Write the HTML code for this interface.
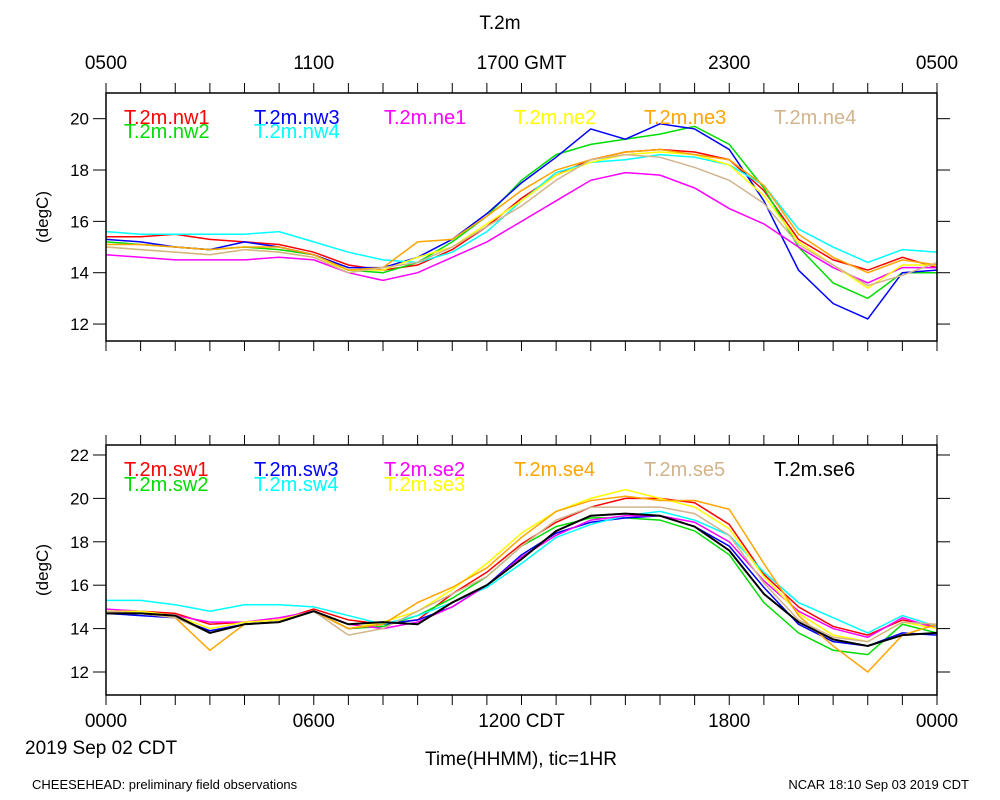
<!DOCTYPE html>
<html><head><meta charset="utf-8"><style>
body{margin:0;background:#fff}svg{display:block}
text{font-family:"Liberation Sans",sans-serif}
</style></head><body>
<svg id="c" width="1000" height="800" xmlns="http://www.w3.org/2000/svg"></svg>
<script>
const hours=[0,1,2,3,4,5,6,7,8,9,10,11,12,13,14,15,16,17,18,19,20,21,22,23,24];
const nw1=[15.4,15.4,15.5,15.3,15.2,15.1,14.8,14.3,14.1,14.3,14.9,15.8,16.9,17.8,18.4,18.7,18.8,18.7,18.4,17.2,15.3,14.5,14.1,14.6,14.2];
const nw2=[15.2,15.1,15.0,14.9,15.0,14.9,14.7,14.1,14.0,14.4,15.2,16.2,17.6,18.6,19.0,19.2,19.4,19.7,19.0,17.3,15.0,13.6,13.0,14.0,14.0];
const nw3=[15.3,15.2,15.0,14.9,15.2,15.0,14.7,14.2,14.2,14.6,15.3,16.3,17.5,18.5,19.6,19.2,19.8,19.6,18.8,16.8,14.1,12.8,12.2,14.0,14.1];
const nw4=[15.6,15.5,15.5,15.5,15.5,15.6,15.2,14.8,14.5,14.4,14.8,15.6,16.8,17.9,18.3,18.4,18.6,18.5,18.2,17.4,15.7,15.0,14.4,14.9,14.8];
const ne1=[14.7,14.6,14.5,14.5,14.5,14.6,14.5,14.0,13.7,14.0,14.6,15.2,16.0,16.8,17.6,17.9,17.8,17.3,16.5,15.9,15.0,14.2,13.6,14.2,14.2];
const ne2=[15.0,14.9,14.8,14.7,14.9,14.8,14.6,14.1,14.1,14.6,15.0,15.9,16.8,17.8,18.3,18.6,18.7,18.6,18.2,17.0,15.2,14.3,13.4,14.3,14.3];
const ne3=[15.1,15.1,15.0,14.9,15.0,15.0,14.7,14.1,14.2,15.2,15.3,16.2,17.2,18.0,18.4,18.7,18.8,18.6,18.4,17.4,15.5,14.6,14.0,14.5,14.3];
const ne4=[15.0,14.9,14.8,14.7,14.9,14.8,14.6,14.0,14.2,14.4,15.0,15.8,16.6,17.6,18.4,18.6,18.5,18.1,17.6,16.7,15.1,14.3,13.5,13.9,14.4];
const sw1=[14.8,14.8,14.7,14.2,14.3,14.4,14.9,14.4,14.2,14.4,15.6,16.6,17.9,18.9,19.6,20.0,20.0,19.8,18.8,16.5,15.0,14.1,13.7,14.4,14.1];
const sw2=[14.7,14.7,14.6,13.8,14.2,14.3,14.8,14.0,14.1,14.6,15.4,16.4,17.8,18.7,19.1,19.1,19.0,18.5,17.4,15.2,13.8,13.0,12.8,14.2,13.8];
const sw3=[14.7,14.6,14.5,13.9,14.2,14.3,14.8,14.0,14.2,14.4,15.0,16.0,17.4,18.4,18.9,19.1,19.2,18.7,17.8,15.9,14.2,13.4,13.2,13.8,13.7];
const sw4=[15.3,15.3,15.1,14.8,15.1,15.1,15.0,14.6,14.2,14.6,15.2,15.9,17.0,18.2,18.8,19.2,19.4,19.0,18.3,16.6,15.2,14.5,13.8,14.6,14.1];
const se2=[14.9,14.8,14.6,14.3,14.3,14.5,14.8,14.2,14.0,14.3,15.0,16.0,17.3,18.3,19.0,19.2,19.2,18.9,18.0,16.2,14.8,14.0,13.6,14.5,14.0];
const se3=[14.8,14.8,14.6,14.0,14.3,14.4,14.8,14.0,14.3,14.8,15.8,17.0,18.4,19.4,20.0,20.4,20.0,19.6,18.6,16.4,14.7,13.7,13.4,14.3,14.0];
const se4=[14.8,14.7,14.5,13.0,14.2,14.3,14.8,14.0,14.2,15.2,15.9,16.8,18.2,19.4,19.9,20.1,19.9,19.9,19.5,17.0,14.6,13.2,12.0,13.7,14.2];
const se5=[14.8,14.7,14.5,13.8,14.2,14.3,14.8,13.7,14.0,14.8,15.6,16.4,17.8,19.0,19.6,19.6,19.6,19.3,18.3,16.1,14.4,13.6,13.4,14.3,14.2];
const se6=[14.7,14.7,14.6,13.8,14.2,14.3,14.8,14.2,14.3,14.2,15.2,16.0,17.2,18.5,19.2,19.3,19.2,18.7,17.6,15.6,14.3,13.5,13.2,13.7,13.8];
const topTicks=[12,14,16,18,20];
const botTicks=[12,14,16,18,20,22];
const topXLabels=["0500","1100","1700 GMT","2300","0500"];
const botXLabels=["0000","0600","1200 CDT","1800","0000"];

const S=document.getElementById('c'),NS="http://www.w3.org/2000/svg";
function el(t,a,p){const e=document.createElementNS(NS,t);for(const k in a)e.setAttribute(k,a[k]);(p||S).appendChild(e);return e;}
function txt(s,x,y,anchor,size,fill,name){const t=el('text',{x:x,y:y,'text-anchor':anchor,'font-size':size,style:'fill:'+(fill||'#000')});t.textContent=s;


return t;}
const X0=106,X1=937;
const xs=h=>X0+(X1-X0)*h/24;
function panel(name,top,bot,ymin,ymax,ticks,series,legend){
  const ys=v=>bot-(v-ymin)/(ymax-ymin)*(bot-top);
  const g=el('g',{});
  
  
  for(let h=0;h<=24;h++){
    el('line',{x1:xs(h),x2:xs(h),y1:top,y2:top-10,stroke:'#000','stroke-width':1},g);
    el('line',{x1:xs(h),x2:xs(h),y1:bot,y2:bot+10,stroke:'#000','stroke-width':1},g);
  }
  ticks.forEach(v=>{
    el('line',{x1:X0-13,x2:X0,y1:ys(v),y2:ys(v),stroke:'#000'},g);
    el('line',{x1:X1,x2:X1+13,y1:ys(v),y2:ys(v),stroke:'#000'},g);
    txt(String(v),X0-17,ys(v)+6,'end',17,'#000','y-tick-label');
  });
  txt('(degC)',48,(top+bot)/2,'middle',17,'#000','y-axis-title').setAttribute('transform','rotate(-90 48 '+(top+bot)/2+')');
  series.forEach(s=>{
    const p=el('polyline',{points:hours.map((h,i)=>xs(h)+','+ys(s.d[i])).join(' '),fill:'none',stroke:s.c,'stroke-width':s.w||1.5},g);
    
    
  });
  legend.forEach(l=>{txt(l.n,l.x,l.y,'start',20,l.c,'legend-entry');});
  el('rect',{x:X0,y:top,width:X1-X0,height:bot-top,fill:'none',stroke:'#000','stroke-width':1.5},g);
}
panel('top-panel',93,341,11.34,21.0,topTicks,[
 {n:'nw1',c:'#f00',d:nw1},{n:'nw2',c:'#0d0',d:nw2},{n:'nw3',c:'#00f',d:nw3},{n:'nw4',c:'#0ff',d:nw4},
 {n:'ne1',c:'#f0f',d:ne1},{n:'ne2',c:'#ff0',d:ne2},{n:'ne3',c:'#ffa500',d:ne3},{n:'ne4',c:'#d2b48c',d:ne4}],
 [{n:'T.2m.nw1',c:'#f00',x:124,y:124},{n:'T.2m.nw2',c:'#0d0',x:124,y:138},{n:'T.2m.nw3',c:'#00f',x:254,y:124},{n:'T.2m.nw4',c:'#0ff',x:254,y:138},
  {n:'T.2m.ne1',c:'#f0f',x:384,y:124},{n:'T.2m.ne2',c:'#ff0',x:514,y:124},{n:'T.2m.ne3',c:'#ffa500',x:644,y:124},{n:'T.2m.ne4',c:'#d2b48c',x:774,y:124}]);
panel('bottom-panel',445,695,10.94,22.46,botTicks,[
 {n:'sw1',c:'#f00',d:sw1},{n:'sw2',c:'#0d0',d:sw2},{n:'sw3',c:'#00f',d:sw3},{n:'sw4',c:'#0ff',d:sw4},
 {n:'se2',c:'#f0f',d:se2},{n:'se3',c:'#ff0',d:se3},{n:'se4',c:'#ffa500',d:se4},{n:'se5',c:'#d2b48c',d:se5},{n:'se6',c:'#000',d:se6,w:2}],
 [{n:'T.2m.sw1',c:'#f00',x:124,y:476},{n:'T.2m.sw2',c:'#0d0',x:124,y:491},{n:'T.2m.sw3',c:'#00f',x:254,y:476},{n:'T.2m.sw4',c:'#0ff',x:254,y:491},
  {n:'T.2m.se2',c:'#f0f',x:384,y:476},{n:'T.2m.se3',c:'#ff0',x:384,y:491},{n:'T.2m.se4',c:'#ffa500',x:514,y:476},{n:'T.2m.se5',c:'#d2b48c',x:644,y:476},{n:'T.2m.se6',c:'#000',x:774,y:476}]);
topXLabels.forEach((s,i)=>txt(s,xs(i*6),69,'middle',19,'#000','top-x-tick-label'));
botXLabels.forEach((s,i)=>txt(s,xs(i*6),727,'middle',19,'#000','bottom-x-tick-label'));
txt('T.2m',500,29,'middle',19,'#000','chart-title');
txt('2019 Sep 02 CDT',25,754,'start',19,'#000','date-label');
txt('Time(HHMM), tic=1HR',521,765,'middle',19,'#000','x-axis-title');
txt('CHEESEHEAD: preliminary field observations',32,789,'start',13,'#000','footer-left');
txt('NCAR 18:10 Sep 03 2019 CDT',969,789,'end',13,'#000','footer-right');
</script>
</body></html>
